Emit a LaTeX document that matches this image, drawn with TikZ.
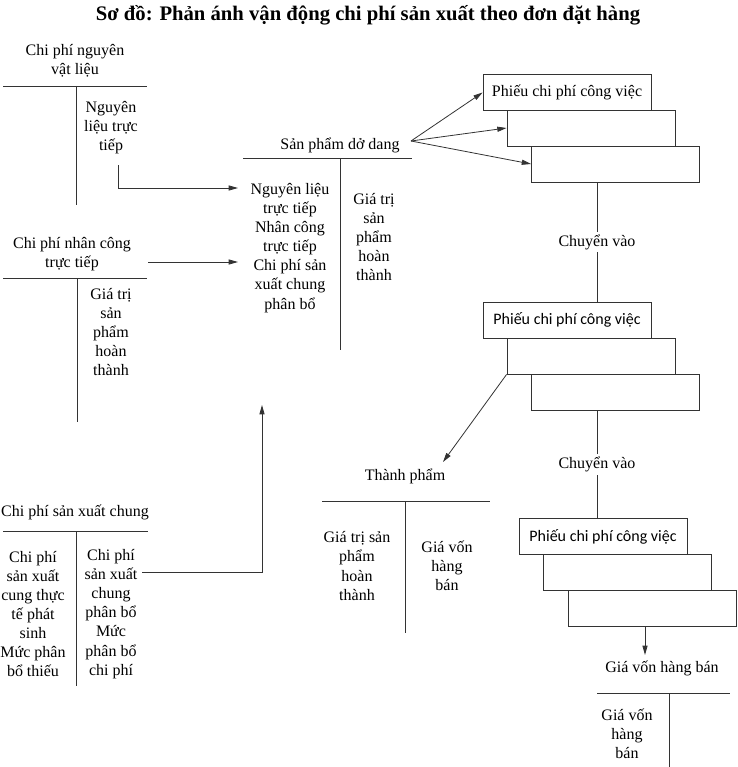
\documentclass[tikz,border=0pt]{standalone}
\usepackage{fontspec}
\setmainfont{Liberation Serif}
\newfontfamily\phieufont{Carlito}
\usetikzlibrary{arrows.meta}

\begin{document}
\begin{tikzpicture}[x=0.75pt, y=-0.75pt]

    \tikzset{tline/.style={draw=black!80, line width=0.6pt}}
    \tikzset{arr/.style={tline, -{Triangle[length=7pt,width=3.8pt]}}}
    \tikzset{txt/.style={align=center, inner sep=0pt, font=\fontsize{12}{14.3}\rmfamily}}
    \tikzset{phieu/.style={tline, minimum width=126pt, minimum height=27pt, inner sep=0pt, font=\fontsize{12}{14.3}\rmfamily}}

    \useasboundingbox (0,0) rectangle (738,767);

    \node[font=\fontsize{15.5}{18}\rmfamily\bfseries] (title) at (368,15) {Sơ đồ: Phản ánh vận động chi phí sản xuất theo đơn đặt hàng};

    % T accounts
    \node[txt] (nl) at ( 75, 61) {Chi phí nguyên\\vật liệu};
    \node[txt] (nlr) at (111,128) {Nguyên\\liệu trực\\tiếp};
    \draw[tline] (3,86) -- (147,86);
    \draw[tline] (76,86) -- (76,205);

    \node[txt] (nc) at ( 72,254) {Chi phí nhân công\\trực tiếp};
    \node[txt] (ncr) at (111,332) {Giá trị\\sản\\phẩm\\hoàn\\thành};
    \draw[tline] (3,278) -- (147,278);
    \draw[tline] (77,278) -- (77,422);

    \node[txt] (sx) at ( 75,512) {Chi phí sản xuất chung};
    \node[txt] (sxl) at ( 33,614) {Chi phí\\sản xuất\\cung thực\\tế phát\\sinh\\Mức phân\\bổ thiếu};
    \node[txt] (sxr) at (111,614) {Chi phí\\sản xuất\\chung\\phân bổ\\Mức\\phân bổ\\chi phí};
    \draw[tline] (3,531) -- (148,531);
    \draw[tline] (76,531) -- (76,686);

    \node[txt] (dd) at (340,145) {Sản phẩm dở dang};
    \node[txt] (ddl) at (290,248) {Nguyên liệu\\trực tiếp\\Nhân công\\trực tiếp\\Chi phí sản\\xuất chung\\phân bổ};
    \node[txt] (ddr) at (374,237) {Giá trị\\sản\\phẩm\\hoàn\\thành};
    \draw[tline] (243,158) -- (412,158);
    \draw[tline] (340,158) -- (340,350);

    \node[txt] (tp) at (405,476) {Thành phẩm};
    \node[txt] (tpl) at (357,566) {Giá trị sản\\phẩm\\hoàn\\thành};
    \node[txt] (tpr) at (447,566) {Giá vốn\\hàng\\bán};
    \draw[tline] (322,501) -- (490,501);
    \draw[tline] (405,501) -- (405,633);

    \node[txt] (gv) at (662,668) {Giá vốn hàng bán};
    \node[txt] (gvl) at (627,734) {Giá vốn\\hàng\\bán};
    \draw[tline] (597,693) -- (730,693);
    \draw[tline] (669,693) -- (669,767);

    % Phieu chi phi cong viec
    \node[phieu] (b11) at (567, 92.5) {Phiếu chi phí công việc};
    \node[phieu] (b12) at (591,128) {};
    \node[phieu] (b13) at (615.5,164) {};

    \node[phieu, font=\fontsize{12}{14.3}\phieufont] (b21) at (567,320) {Phiếu chi phí công việc};
    \node[phieu] (b22) at (591,356) {};
    \node[phieu] (b23) at (615.5,392) {};

    \node[phieu, font=\fontsize{12}{14.3}\phieufont] (b31) at (603,536.5) {Phiếu chi phí công việc};
    \node[phieu] (b32) at (627.5,572) {};
    \node[phieu] (b33) at (652,608.5) {};

    % diem noi
    \coordinate (fan) at (411,141);
    \coordinate (nlout) at (118,165);
    \coordinate (ddin1) at (238,188);
    \coordinate (ncout) at (148,262);
    \coordinate (ddin2) at (238,262);
    \coordinate (sxout) at (142,572);
    \coordinate (ddin3) at (262,405);
    \coordinate (cv1) at (597,182);
    \coordinate (cv2) at (597,302);
    \coordinate (cv3) at (597,410);
    \coordinate (cv4) at (597,519);
    \coordinate (tpin) at (443,462);
    \coordinate (gvout) at (645,627);
    \coordinate (gvin) at (645,655);

    \draw[arr] (nlout) |- (ddin1);
    \draw[arr] (ncout) -- (ddin2);
    \draw[arr] (sxout) -| (ddin3);

    \draw[arr] (fan) -- (b11.west);
    \draw[arr] (fan) -- (b12.west);
    \draw[arr] (fan) -- (b13.west);

    \draw[tline] (cv1) -- node[txt, fill=white, inner sep=2pt] (cvl1) {Chuyển vào} (cv2);
    \draw[tline] (cv3) -- node[txt, fill=white, inner sep=2pt] (cvl2) {Chuyển vào} (cv4);

    \draw[arr] (b22.south west) -- (tpin);
    \draw[arr] (gvout) -- (gvin);

\end{tikzpicture}
\end{document}
